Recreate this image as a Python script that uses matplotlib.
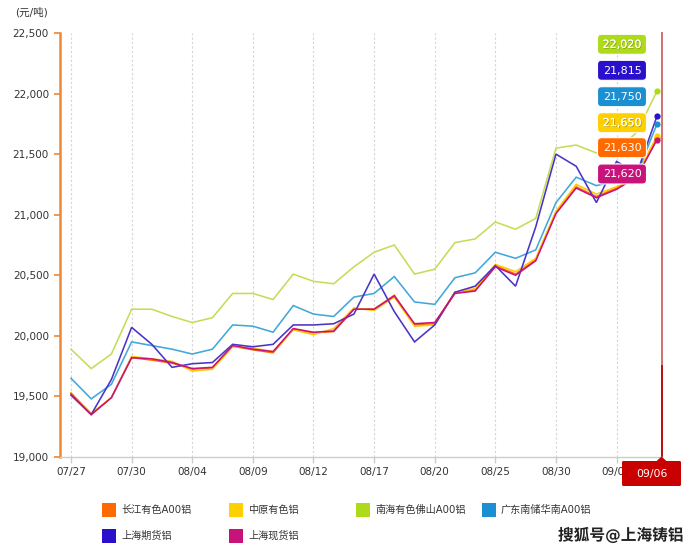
import matplotlib
matplotlib.use("Agg")
import matplotlib.pyplot as plt
from matplotlib.patches import FancyBboxPatch, Rectangle, Polygon
import matplotlib.patheffects as pe
from matplotlib.ticker import FuncFormatter, FixedLocator

plt.rcParams['font.family'] = ['DejaVu Sans', 'Noto Sans CJK SC']

# ---------------- data ----------------
dates = ['07/27', '07/28', '07/29', '07/30', '08/02', '08/03', '08/04', '08/05', '08/06', '08/09',
         '08/10', '08/11', '08/12', '08/13', '08/16', '08/17', '08/18', '08/19', '08/20', '08/23',
         '08/24', '08/25', '08/26', '08/27', '08/30', '08/31', '09/01', '09/02', '09/03', '09/06']

changjiang = [19530, 19350, 19490, 19820, 19800, 19775, 19725, 19735, 19915, 19885,
              19860, 20055, 20025, 20035, 20220, 20220, 20335, 20090, 20100, 20360,
              20380, 20580, 20510, 20630, 21020, 21230, 21150, 21220, 21320, 21630]
zhongyuan = [19530, 19360, 19490, 19830, 19810, 19790, 19710, 19725, 19910, 19900,
             19870, 20050, 20010, 20060, 20230, 20210, 20320, 20080, 20090, 20360,
             20390, 20590, 20530, 20640, 21030, 21250, 21170, 21230, 21330, 21650]
nanhai = [19890, 19730, 19850, 20220, 20220, 20160, 20110, 20150, 20350, 20350,
          20300, 20510, 20450, 20430, 20570, 20690, 20750, 20510, 20550, 20770,
          20800, 20940, 20880, 20970, 21550, 21575, 21510, 21530, 21680, 22020]
guangdong = [19650, 19480, 19600, 19950, 19920, 19890, 19850, 19890, 20090, 20080,
             20030, 20250, 20180, 20160, 20320, 20350, 20490, 20280, 20260, 20480,
             20520, 20690, 20640, 20710, 21100, 21310, 21240, 21280, 21330, 21750]
shfutures = [19510, 19350, 19640, 20070, 19930, 19740, 19770, 19780, 19930, 19910,
             19930, 20090, 20090, 20100, 20180, 20510, 20200, 19950, 20090, 20360,
             20410, 20580, 20410, 20900, 21500, 21400, 21100, 21440, 21340, 21815]
shspot = [19520, 19350, 19490, 19820, 19810, 19780, 19730, 19740, 19920, 19890,
          19870, 20060, 20030, 20040, 20220, 20220, 20330, 20100, 20110, 20350,
          20370, 20570, 20500, 20620, 21010, 21220, 21140, 21210, 21310, 21620]

series_names = ['长江有色A00铝', '中原有色铝', '南海有色佛山A00铝', '广东南储华南A00铝', '上海期货铝', '上海现货铝']
series_values = [changjiang, zhongyuan, nanhai, guangdong, shfutures, shspot]
series_colors = ['#FF6A00', '#FFD000', '#AEDA1C', '#1A90D2', '#2A10CC', '#C8147A']
line_colors = ['#FF6A00', '#FFC800', '#C2DE58', '#42A8D8', '#4A34C6', '#C8147A']

yticks = [19000, 19500, 20000, 20500, 21000, 21500, 22000, 22500]
unit_label = '(元/吨)'
watermark = '搜狐号@上海铸铝'

# ---------------- figure ----------------
W, H = 692, 552
fig = plt.figure(figsize=(W / 100, H / 100), dpi=100)
ax = fig.add_axes([60 / W, (H - 457) / H, 602 / W, 424 / H])

def px(x, y):
    return (x / 100.0, (H - y) / 100.0)

n = len(dates)
xs = list(range(n))

order = [1, 0, 2, 3, 4, 5]
for i in order:
    ax.plot(xs, series_values[i], color=line_colors[i], lw=1.15, zorder=3 + i,
            solid_joinstyle='miter')
    ax.plot([xs[-1]], [series_values[i][-1]], 'o', color=series_colors[i], ms=4.5,
            zorder=10 + i, mec='none')

ax.set_xlim(-0.544, 29.247)
ax.set_ylim(19000, 22500)

# axes styling
for s in ['top', 'right']:
    ax.spines[s].set_visible(False)
ax.spines['left'].set_color('#EE8833')
ax.spines['left'].set_linewidth(1.8)
ax.spines['bottom'].set_color('#cccccc')
ax.spines['bottom'].set_linewidth(1.0)

ax.yaxis.set_major_locator(FixedLocator(yticks))
ax.yaxis.set_major_formatter(FuncFormatter(lambda v, p: f'{int(v):,}'))
ax.tick_params(axis='y', colors='#EE8833', length=4, width=1.2, labelcolor='#333333',
               labelsize=7.5, pad=4)

label_idx = list(range(0, n - 1, 3))
ax.set_xticks(label_idx)
ax.set_xticklabels([dates[i] for i in label_idx])
ax.tick_params(axis='x', colors='#cccccc', length=4, width=1.0, labelcolor='#333333',
               labelsize=7.5, pad=3.5)

for i in label_idx:
    ax.axvline(i, color='#d4d4d4', lw=0.8, ls=(0, (2, 2)), zorder=1)

# crosshair line
ax.plot([29.223, 29.223], [19000, 22500], color='#D07070', lw=1.4, zorder=2, clip_on=False)
ax.plot([29.223, 29.223], [19000, 19750], color='#B81010', lw=1.4, zorder=2, clip_on=False)

# unit label
fig.text(15 / W, (H - 12) / H, unit_label, fontsize=7.6, color='#333333', va='center', ha='left')

# value boxes
box_order = [2, 4, 3, 1, 0, 5]
box_tops = [34.3, 60.3, 86.7, 112.7, 137.7, 164.0]
for k, i in enumerate(box_order):
    top = box_tops[k]
    x0, y0 = px(597.5, top + 20)
    p = FancyBboxPatch((x0, y0), 0.49, 0.20, boxstyle='round,pad=0,rounding_size=0.04',
                       transform=fig.dpi_scale_trans, fc=series_colors[i], ec='#ffffff',
                       lw=0.8, zorder=20)
    fig.add_artist(p)
    tx, ty = px(622, top + 10.5)
    t = fig.text(tx / (W / 100), ty / (H / 100), f'{series_values[i][-1]:,}', color='white',
                 fontsize=8, ha='center', va='center', zorder=21)
    if i in (1, 2):
        t.set_path_effects([pe.withSimplePatchShadow(offset=(0.6, -0.6), shadow_rgbFace='#777700', alpha=0.6),
                            pe.Normal()])

# 09/06 red label box
bx0, by0 = px(622, 486)
rb = FancyBboxPatch((bx0, by0), 0.59, 0.25, boxstyle='round,pad=0,rounding_size=0.015',
                    transform=fig.dpi_scale_trans, fc='#C80000', ec='none', zorder=20)
fig.add_artist(rb)
tri = Polygon([px(655.5, 462), px(667.5, 462), px(661.5, 456.5)], closed=True,
              transform=fig.dpi_scale_trans, fc='#C80000', ec='none', zorder=20)
fig.add_artist(tri)
fig.text(651.5 / W, (H - 474) / H, dates[-1], color='white', fontsize=7.8,
         ha='center', va='center', zorder=21)

# legend
leg_pos = [(102, 510), (229, 510), (356, 510), (482, 510), (102, 536), (229, 536)]
for (lx, ly), name, c in zip(leg_pos, series_names, series_colors):
    rx, ry = px(lx, ly + 7)
    fig.add_artist(Rectangle((rx, ry), 0.14, 0.14, transform=fig.dpi_scale_trans,
                             fc=c, ec='none', zorder=20))
    fig.text((lx + 19) / W, (H - ly) / H, name, fontsize=7.3, color='#333333',
             ha='left', va='center')

# watermark
wm = fig.text(621 / W, (H - 535) / H, watermark, fontsize=11.3, fontweight='bold',
              color='#222222', ha='center', va='center', zorder=30)
wm.set_path_effects([pe.withStroke(linewidth=2, foreground='white')])

fig.savefig('out.png', dpi=100)
